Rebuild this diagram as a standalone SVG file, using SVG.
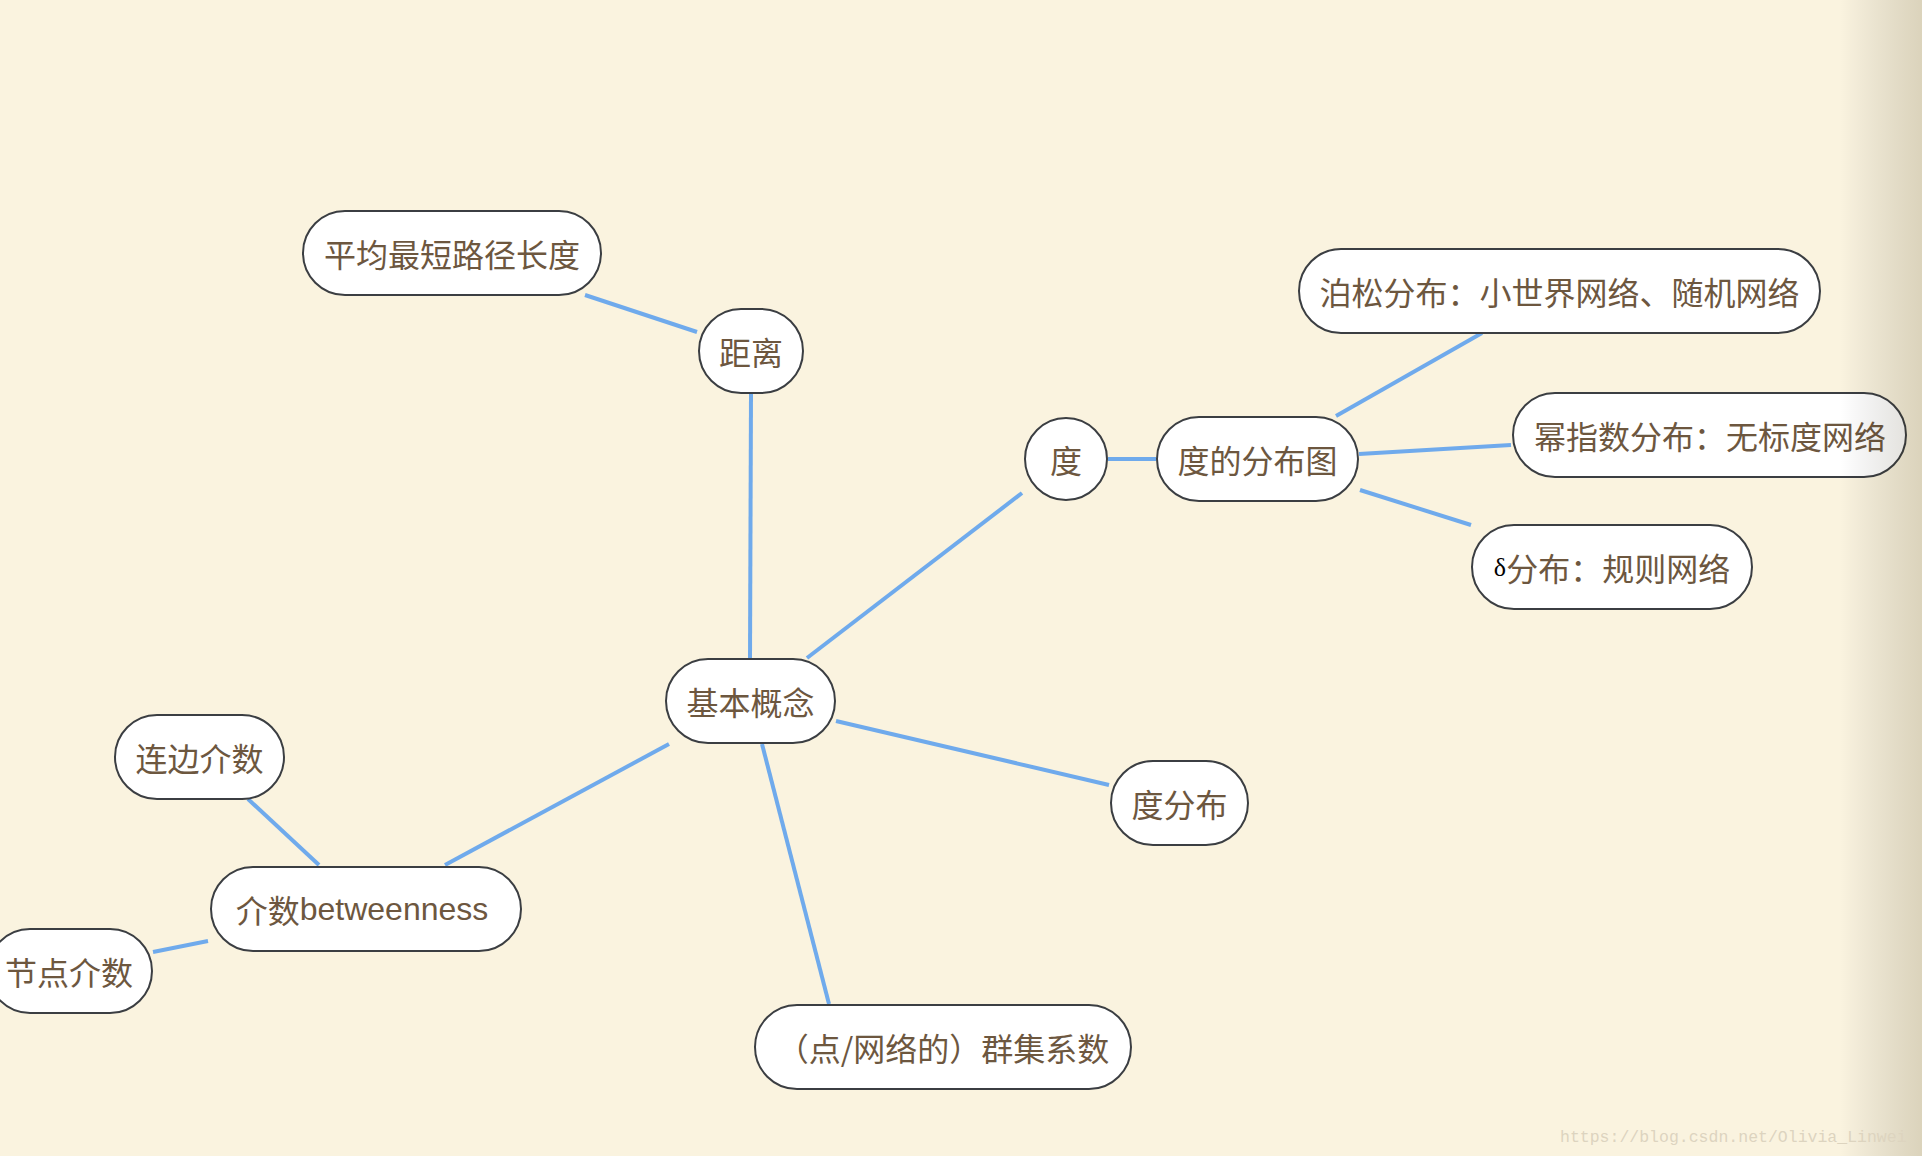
<svg xmlns="http://www.w3.org/2000/svg" width="1922" height="1156" viewBox="0 0 1922 1156">
<style>
.n rect{fill:#ffffff;stroke:#3b3e42;stroke-width:2}
.n text{font-family:"Noto Sans CJK SC","Liberation Sans",sans-serif;font-size:32px;fill:#6d573f;text-anchor:middle;dominant-baseline:central}
.lat{font-family:"Liberation Sans","Noto Sans CJK SC",sans-serif}
#connectors line{stroke:#6faaec;stroke-width:4;stroke-linecap:butt}
</style>
<defs>
<linearGradient id="edge" x1="0" y1="0" x2="1" y2="0">
<stop offset="0" stop-color="#000" stop-opacity="0"/>
<stop offset="1" stop-color="#3a2c00" stop-opacity="0.16"/>
</linearGradient>
</defs>
<rect width="1922" height="1156" fill="#faf3df"/>
<g id="connectors">
<line x1="585" y1="295" x2="697" y2="332"/>
<line x1="751" y1="393" x2="750" y2="658"/>
<line x1="807" y1="658" x2="1022" y2="493"/>
<line x1="1108" y1="459" x2="1156" y2="459"/>
<line x1="1336" y1="416" x2="1482" y2="333"/>
<line x1="1359" y1="454" x2="1511" y2="445"/>
<line x1="1360" y1="490" x2="1471" y2="525"/>
<line x1="836" y1="721" x2="1109" y2="785"/>
<line x1="762" y1="744" x2="829" y2="1004"/>
<line x1="669" y1="744" x2="445" y2="865"/>
<line x1="319" y1="865" x2="248" y2="799"/>
<line x1="208" y1="941" x2="153" y2="952"/>
</g>
<g id="n-pingjun" class="n"><rect x="303" y="211" width="298" height="84" rx="42"/><text x="452" y="253">平均最短路径长度</text></g>
<g id="n-juli" class="n"><rect x="699" y="309" width="104" height="84" rx="42"/><text x="751" y="351">距离</text></g>
<g id="n-du" class="n"><rect x="1025" y="418" width="82" height="82" rx="41"/><text x="1066" y="459">度</text></g>
<g id="n-dufenbutu" class="n"><rect x="1157" y="417" width="201" height="84" rx="42"/><text x="1257.5" y="459">度的分布图</text></g>
<g id="n-bosong" class="n"><rect x="1299" y="249" width="521" height="84" rx="42"/><text x="1559.5" y="291">泊松分布：小世界网络、随机网络</text></g>
<g id="n-mizhishu" class="n"><rect x="1513" y="393" width="393" height="84" rx="42"/><text x="1710" y="435">幂指数分布：无标度网络</text></g>
<g id="n-delta" class="n"><rect x="1472" y="525" width="280" height="84" rx="42"/><text x="1612" y="567"><tspan font-family="Liberation Serif, serif" font-size="26" fill="#000">δ</tspan>分布：规则网络</text></g>
<g id="n-jiben" class="n"><rect x="666" y="659" width="169" height="84" rx="42"/><text x="750.5" y="701">基本概念</text></g>
<g id="n-dufenbu" class="n"><rect x="1111" y="761" width="137" height="84" rx="42"/><text x="1179.5" y="803">度分布</text></g>
<g id="n-qunji" class="n"><rect x="755" y="1005" width="376" height="84" rx="42"/><text x="943" y="1047">（点/网络的）群集系数</text></g>
<g id="n-lianbian" class="n"><rect x="115" y="715" width="169" height="84" rx="42"/><text x="199.5" y="757">连边介数</text></g>
<g id="n-jieshu" class="n"><rect x="211" y="867" width="310" height="84" rx="42"/><text x="362" y="909">介数<tspan class="lat">betweenness</tspan></text></g>
<g id="n-jiedian" class="n"><rect x="-12" y="929" width="164" height="84" rx="42"/><text x="69" y="971">节点介数</text></g>
<rect x="1840" y="0" width="82" height="1156" fill="url(#edge)"/>
<text x="1560" y="1142" font-family="Liberation Mono, monospace" font-size="16.5" fill="#ddd4bf">https://blog.csdn.net/Olivia_Linwei</text>
</svg>
